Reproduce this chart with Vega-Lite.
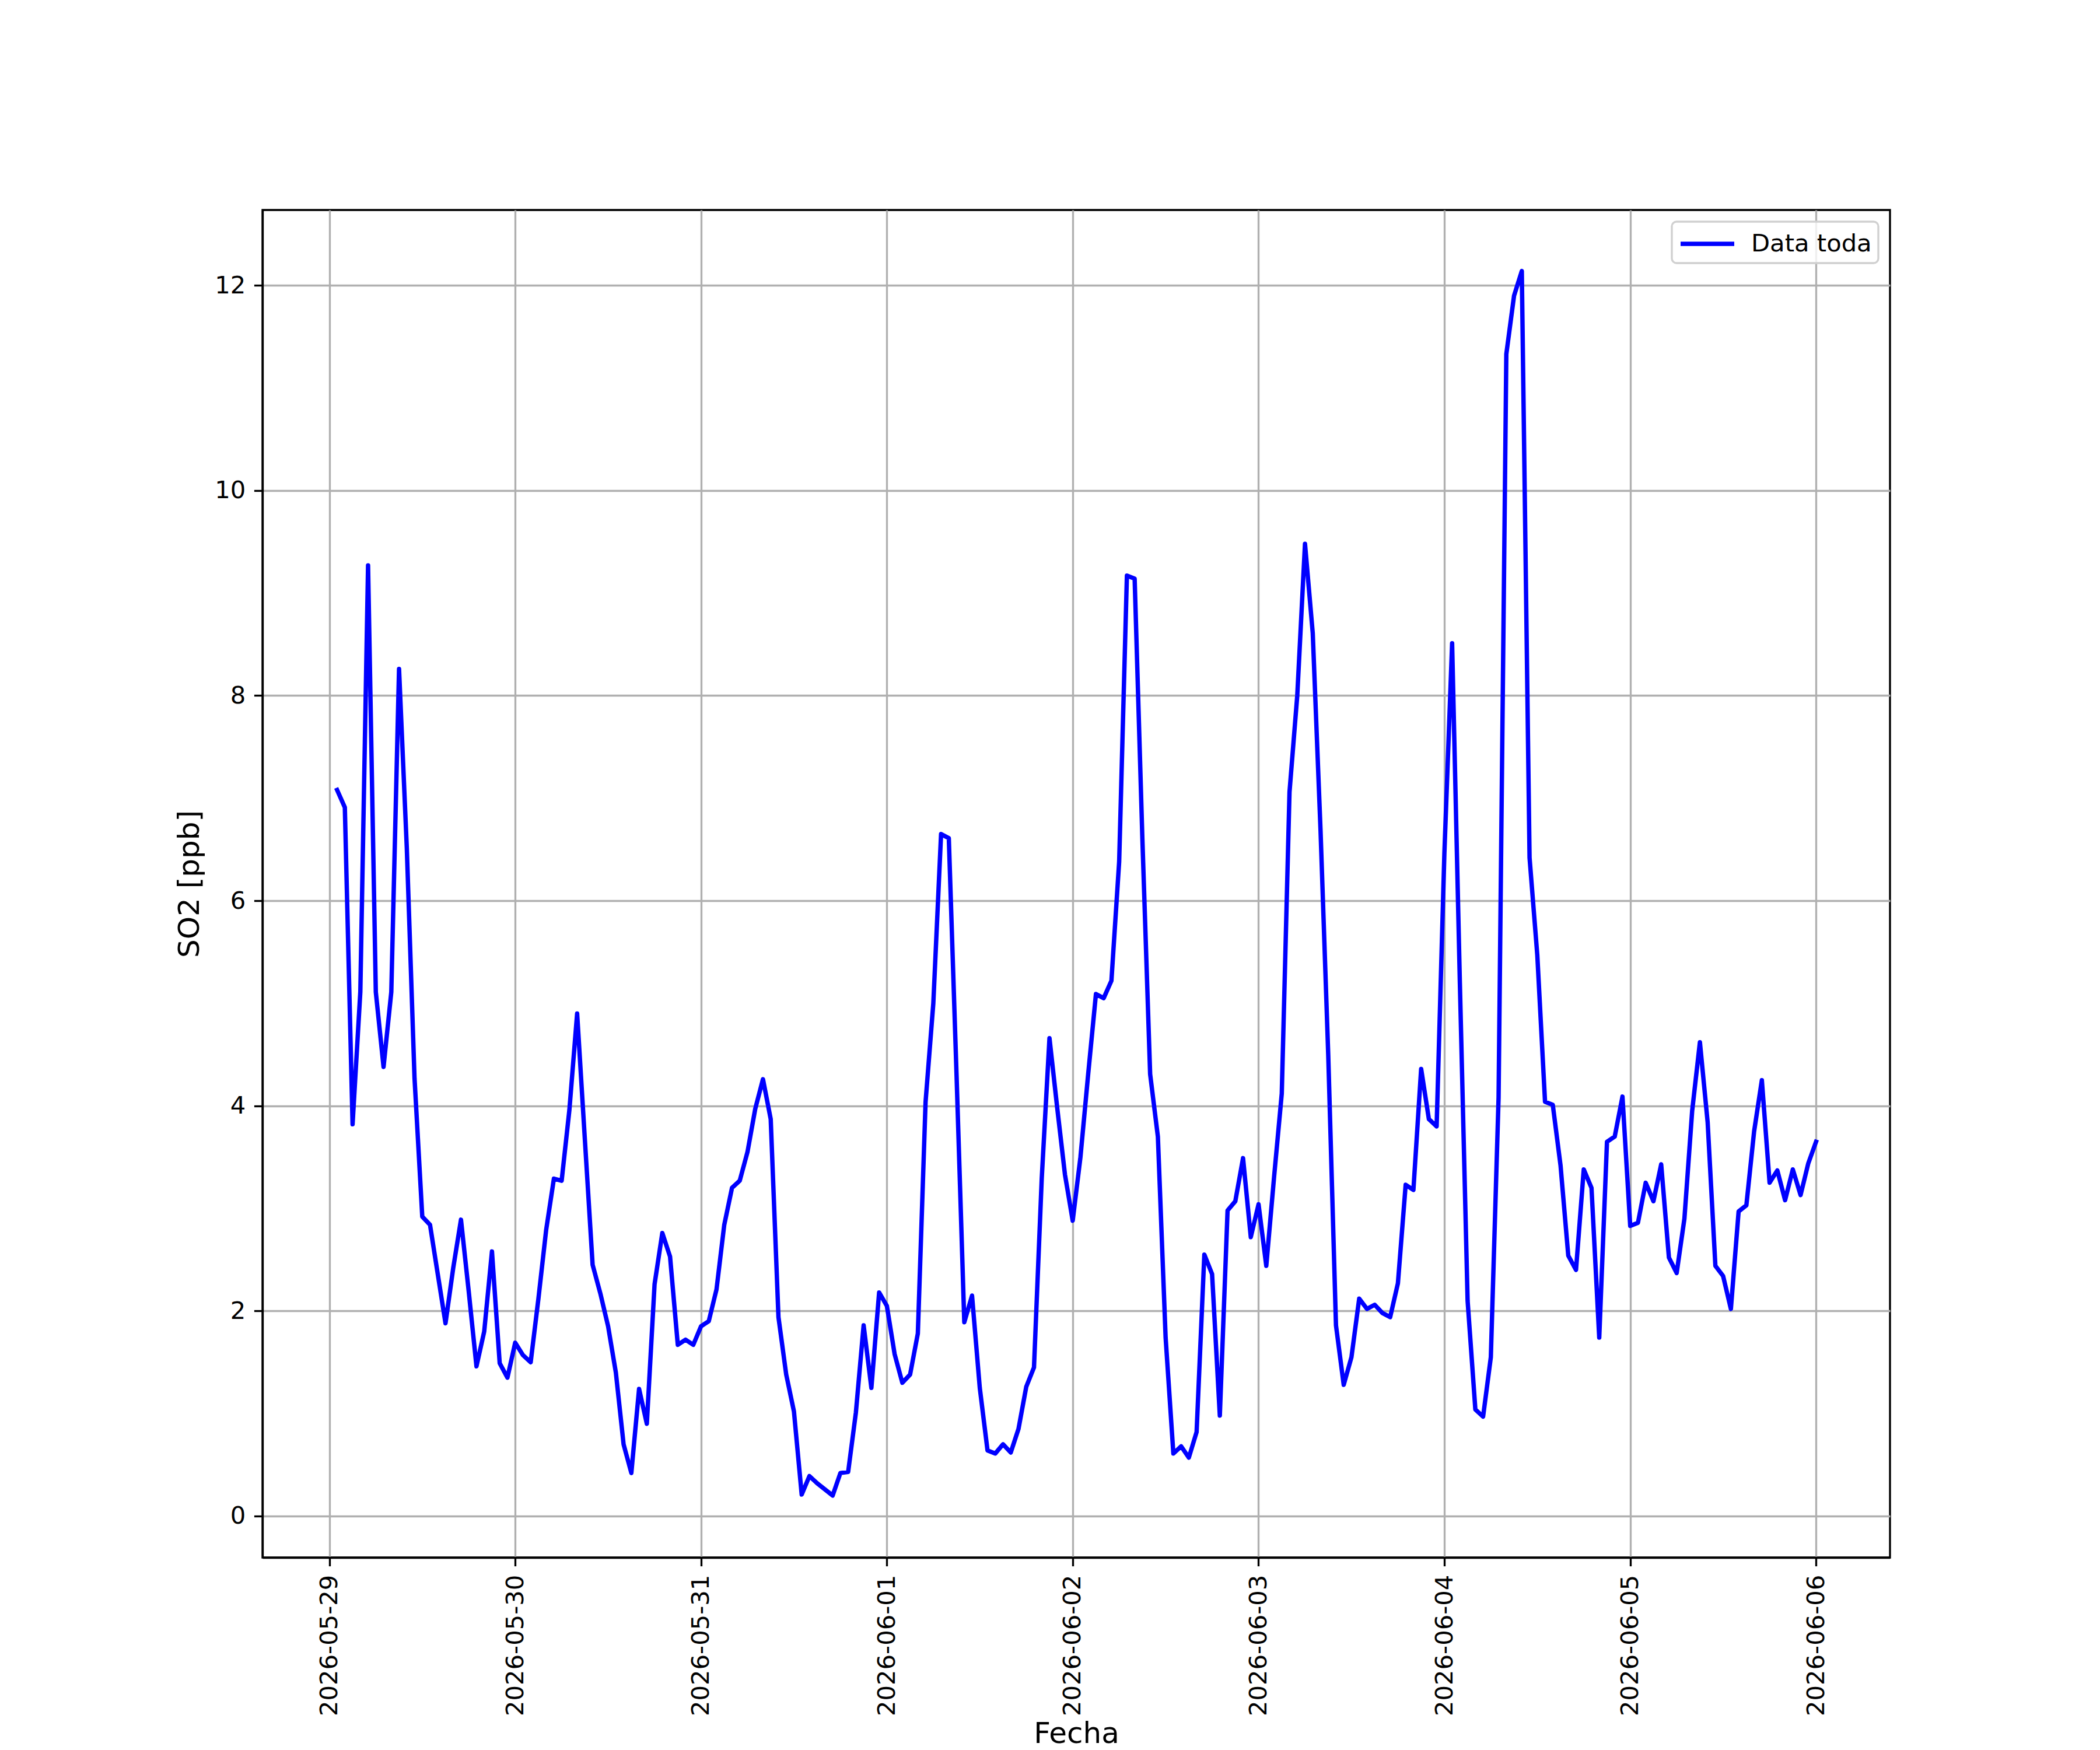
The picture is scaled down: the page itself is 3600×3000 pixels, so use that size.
{
  "$schema": "https://vega.github.io/schema/vega-lite/v6.json",
  "autosize": {"type": "none"},
  "padding": {"left": 450, "top": 360, "right": 360, "bottom": 330},
  "width": 2790,
  "height": 2310,
  "background": "#ffffff",
  "data": {"values": [
    {"fecha": "2026-05-29T01:00", "so2": 7.08}, {"fecha": "2026-05-29T02:00", "so2": 6.91}, {"fecha": "2026-05-29T03:00", "so2": 3.82}, {"fecha": "2026-05-29T04:00", "so2": 5.11},
    {"fecha": "2026-05-29T05:00", "so2": 9.27}, {"fecha": "2026-05-29T06:00", "so2": 5.11}, {"fecha": "2026-05-29T07:00", "so2": 4.38}, {"fecha": "2026-05-29T08:00", "so2": 5.11},
    {"fecha": "2026-05-29T09:00", "so2": 8.26}, {"fecha": "2026-05-29T10:00", "so2": 6.52}, {"fecha": "2026-05-29T11:00", "so2": 4.27}, {"fecha": "2026-05-29T12:00", "so2": 2.92},
    {"fecha": "2026-05-29T13:00", "so2": 2.84}, {"fecha": "2026-05-29T14:00", "so2": 2.36}, {"fecha": "2026-05-29T15:00", "so2": 1.88}, {"fecha": "2026-05-29T16:00", "so2": 2.42},
    {"fecha": "2026-05-29T17:00", "so2": 2.89}, {"fecha": "2026-05-29T18:00", "so2": 2.19}, {"fecha": "2026-05-29T19:00", "so2": 1.46}, {"fecha": "2026-05-29T20:00", "so2": 1.80},
    {"fecha": "2026-05-29T21:00", "so2": 2.58}, {"fecha": "2026-05-29T22:00", "so2": 1.49}, {"fecha": "2026-05-29T23:00", "so2": 1.35}, {"fecha": "2026-05-30T00:00", "so2": 1.69},
    {"fecha": "2026-05-30T01:00", "so2": 1.57}, {"fecha": "2026-05-30T02:00", "so2": 1.50}, {"fecha": "2026-05-30T03:00", "so2": 2.12}, {"fecha": "2026-05-30T04:00", "so2": 2.79},
    {"fecha": "2026-05-30T05:00", "so2": 3.29}, {"fecha": "2026-05-30T06:00", "so2": 3.27}, {"fecha": "2026-05-30T07:00", "so2": 3.96}, {"fecha": "2026-05-30T08:00", "so2": 4.90},
    {"fecha": "2026-05-30T09:00", "so2": 3.67}, {"fecha": "2026-05-30T10:00", "so2": 2.45}, {"fecha": "2026-05-30T11:00", "so2": 2.17}, {"fecha": "2026-05-30T12:00", "so2": 1.85},
    {"fecha": "2026-05-30T13:00", "so2": 1.40}, {"fecha": "2026-05-30T14:00", "so2": 0.70}, {"fecha": "2026-05-30T15:00", "so2": 0.42}, {"fecha": "2026-05-30T16:00", "so2": 1.24},
    {"fecha": "2026-05-30T17:00", "so2": 0.90}, {"fecha": "2026-05-30T18:00", "so2": 2.26}, {"fecha": "2026-05-30T19:00", "so2": 2.76}, {"fecha": "2026-05-30T20:00", "so2": 2.53},
    {"fecha": "2026-05-30T21:00", "so2": 1.67}, {"fecha": "2026-05-30T22:00", "so2": 1.72}, {"fecha": "2026-05-30T23:00", "so2": 1.67}, {"fecha": "2026-05-31T00:00", "so2": 1.85},
    {"fecha": "2026-05-31T01:00", "so2": 1.90}, {"fecha": "2026-05-31T02:00", "so2": 2.21}, {"fecha": "2026-05-31T03:00", "so2": 2.84}, {"fecha": "2026-05-31T04:00", "so2": 3.20},
    {"fecha": "2026-05-31T05:00", "so2": 3.27}, {"fecha": "2026-05-31T06:00", "so2": 3.55}, {"fecha": "2026-05-31T07:00", "so2": 3.97}, {"fecha": "2026-05-31T08:00", "so2": 4.26},
    {"fecha": "2026-05-31T09:00", "so2": 3.87}, {"fecha": "2026-05-31T10:00", "so2": 1.94}, {"fecha": "2026-05-31T11:00", "so2": 1.38}, {"fecha": "2026-05-31T12:00", "so2": 1.02},
    {"fecha": "2026-05-31T13:00", "so2": 0.21}, {"fecha": "2026-05-31T14:00", "so2": 0.39}, {"fecha": "2026-05-31T15:00", "so2": 0.32}, {"fecha": "2026-05-31T16:00", "so2": 0.26},
    {"fecha": "2026-05-31T17:00", "so2": 0.20}, {"fecha": "2026-05-31T18:00", "so2": 0.42}, {"fecha": "2026-05-31T19:00", "so2": 0.43}, {"fecha": "2026-05-31T20:00", "so2": 1.01},
    {"fecha": "2026-05-31T21:00", "so2": 1.86}, {"fecha": "2026-05-31T22:00", "so2": 1.25}, {"fecha": "2026-05-31T23:00", "so2": 2.18}, {"fecha": "2026-06-01T00:00", "so2": 2.05},
    {"fecha": "2026-06-01T01:00", "so2": 1.58}, {"fecha": "2026-06-01T02:00", "so2": 1.30}, {"fecha": "2026-06-01T03:00", "so2": 1.38}, {"fecha": "2026-06-01T04:00", "so2": 1.78},
    {"fecha": "2026-06-01T05:00", "so2": 4.04}, {"fecha": "2026-06-01T06:00", "so2": 5.00}, {"fecha": "2026-06-01T07:00", "so2": 6.65}, {"fecha": "2026-06-01T08:00", "so2": 6.61},
    {"fecha": "2026-06-01T09:00", "so2": 4.30}, {"fecha": "2026-06-01T10:00", "so2": 1.89}, {"fecha": "2026-06-01T11:00", "so2": 2.15}, {"fecha": "2026-06-01T12:00", "so2": 1.25},
    {"fecha": "2026-06-01T13:00", "so2": 0.64}, {"fecha": "2026-06-01T14:00", "so2": 0.61}, {"fecha": "2026-06-01T15:00", "so2": 0.70}, {"fecha": "2026-06-01T16:00", "so2": 0.62},
    {"fecha": "2026-06-01T17:00", "so2": 0.85}, {"fecha": "2026-06-01T18:00", "so2": 1.26}, {"fecha": "2026-06-01T19:00", "so2": 1.45}, {"fecha": "2026-06-01T20:00", "so2": 3.29},
    {"fecha": "2026-06-01T21:00", "so2": 4.66}, {"fecha": "2026-06-01T22:00", "so2": 3.98}, {"fecha": "2026-06-01T23:00", "so2": 3.33}, {"fecha": "2026-06-02T00:00", "so2": 2.88},
    {"fecha": "2026-06-02T01:00", "so2": 3.50}, {"fecha": "2026-06-02T02:00", "so2": 4.31}, {"fecha": "2026-06-02T03:00", "so2": 5.09}, {"fecha": "2026-06-02T04:00", "so2": 5.05},
    {"fecha": "2026-06-02T05:00", "so2": 5.22}, {"fecha": "2026-06-02T06:00", "so2": 6.38}, {"fecha": "2026-06-02T07:00", "so2": 9.17}, {"fecha": "2026-06-02T08:00", "so2": 9.14},
    {"fecha": "2026-06-02T09:00", "so2": 6.60}, {"fecha": "2026-06-02T10:00", "so2": 4.31}, {"fecha": "2026-06-02T11:00", "so2": 3.70}, {"fecha": "2026-06-02T12:00", "so2": 1.74},
    {"fecha": "2026-06-02T13:00", "so2": 0.61}, {"fecha": "2026-06-02T14:00", "so2": 0.68}, {"fecha": "2026-06-02T15:00", "so2": 0.57}, {"fecha": "2026-06-02T16:00", "so2": 0.82},
    {"fecha": "2026-06-02T17:00", "so2": 2.55}, {"fecha": "2026-06-02T18:00", "so2": 2.36}, {"fecha": "2026-06-02T19:00", "so2": 0.98}, {"fecha": "2026-06-02T20:00", "so2": 2.98},
    {"fecha": "2026-06-02T21:00", "so2": 3.07}, {"fecha": "2026-06-02T22:00", "so2": 3.49}, {"fecha": "2026-06-02T23:00", "so2": 2.72}, {"fecha": "2026-06-03T00:00", "so2": 3.04},
    {"fecha": "2026-06-03T01:00", "so2": 2.44}, {"fecha": "2026-06-03T02:00", "so2": 3.30}, {"fecha": "2026-06-03T03:00", "so2": 4.12}, {"fecha": "2026-06-03T04:00", "so2": 7.06},
    {"fecha": "2026-06-03T05:00", "so2": 8.00}, {"fecha": "2026-06-03T06:00", "so2": 9.48}, {"fecha": "2026-06-03T07:00", "so2": 8.61}, {"fecha": "2026-06-03T08:00", "so2": 6.70},
    {"fecha": "2026-06-03T09:00", "so2": 4.50}, {"fecha": "2026-06-03T10:00", "so2": 1.86}, {"fecha": "2026-06-03T11:00", "so2": 1.28}, {"fecha": "2026-06-03T12:00", "so2": 1.55},
    {"fecha": "2026-06-03T13:00", "so2": 2.12}, {"fecha": "2026-06-03T14:00", "so2": 2.02}, {"fecha": "2026-06-03T15:00", "so2": 2.06}, {"fecha": "2026-06-03T16:00", "so2": 1.98},
    {"fecha": "2026-06-03T17:00", "so2": 1.94}, {"fecha": "2026-06-03T18:00", "so2": 2.27}, {"fecha": "2026-06-03T19:00", "so2": 3.23}, {"fecha": "2026-06-03T20:00", "so2": 3.18},
    {"fecha": "2026-06-03T21:00", "so2": 4.36}, {"fecha": "2026-06-03T22:00", "so2": 3.87}, {"fecha": "2026-06-03T23:00", "so2": 3.80}, {"fecha": "2026-06-04T00:00", "so2": 6.46},
    {"fecha": "2026-06-04T01:00", "so2": 8.51}, {"fecha": "2026-06-04T02:00", "so2": 5.20}, {"fecha": "2026-06-04T03:00", "so2": 2.10}, {"fecha": "2026-06-04T04:00", "so2": 1.04},
    {"fecha": "2026-06-04T05:00", "so2": 0.97}, {"fecha": "2026-06-04T06:00", "so2": 1.55}, {"fecha": "2026-06-04T07:00", "so2": 4.08}, {"fecha": "2026-06-04T08:00", "so2": 11.33},
    {"fecha": "2026-06-04T09:00", "so2": 11.90}, {"fecha": "2026-06-04T10:00", "so2": 12.14}, {"fecha": "2026-06-04T11:00", "so2": 6.42}, {"fecha": "2026-06-04T12:00", "so2": 5.47},
    {"fecha": "2026-06-04T13:00", "so2": 4.04}, {"fecha": "2026-06-04T14:00", "so2": 4.01}, {"fecha": "2026-06-04T15:00", "so2": 3.42}, {"fecha": "2026-06-04T16:00", "so2": 2.54},
    {"fecha": "2026-06-04T17:00", "so2": 2.40}, {"fecha": "2026-06-04T18:00", "so2": 3.38}, {"fecha": "2026-06-04T19:00", "so2": 3.20}, {"fecha": "2026-06-04T20:00", "so2": 1.74},
    {"fecha": "2026-06-04T21:00", "so2": 3.65}, {"fecha": "2026-06-04T22:00", "so2": 3.70}, {"fecha": "2026-06-04T23:00", "so2": 4.09}, {"fecha": "2026-06-05T00:00", "so2": 2.83},
    {"fecha": "2026-06-05T01:00", "so2": 2.86}, {"fecha": "2026-06-05T02:00", "so2": 3.25}, {"fecha": "2026-06-05T03:00", "so2": 3.07}, {"fecha": "2026-06-05T04:00", "so2": 3.43},
    {"fecha": "2026-06-05T05:00", "so2": 2.52}, {"fecha": "2026-06-05T06:00", "so2": 2.37}, {"fecha": "2026-06-05T07:00", "so2": 2.90}, {"fecha": "2026-06-05T08:00", "so2": 3.95},
    {"fecha": "2026-06-05T09:00", "so2": 4.62}, {"fecha": "2026-06-05T10:00", "so2": 3.84}, {"fecha": "2026-06-05T11:00", "so2": 2.44}, {"fecha": "2026-06-05T12:00", "so2": 2.34},
    {"fecha": "2026-06-05T13:00", "so2": 2.02}, {"fecha": "2026-06-05T14:00", "so2": 2.97}, {"fecha": "2026-06-05T15:00", "so2": 3.03}, {"fecha": "2026-06-05T16:00", "so2": 3.75},
    {"fecha": "2026-06-05T17:00", "so2": 4.25}, {"fecha": "2026-06-05T18:00", "so2": 3.25}, {"fecha": "2026-06-05T19:00", "so2": 3.37}, {"fecha": "2026-06-05T20:00", "so2": 3.08},
    {"fecha": "2026-06-05T21:00", "so2": 3.38}, {"fecha": "2026-06-05T22:00", "so2": 3.13}, {"fecha": "2026-06-05T23:00", "so2": 3.44}, {"fecha": "2026-06-06T00:00", "so2": 3.65}
  ]},
  "mark": {"type": "line", "strokeWidth": 7.5, "strokeJoin": "round", "strokeCap": "square", "clip": true},
  "encoding": {
    "x": {
      "field": "fecha", "type": "temporal", "title": "Fecha",
      "scale": {"domain": [
        {"year": 2026, "month": 5, "date": 28, "hours": 15, "minutes": 22},
        {"year": 2026, "month": 6, "date": 6, "hours": 9, "minutes": 33}
      ], "nice": false},
      "axis": {"format": "%Y-%m-%d", "tickCount": {"interval": "day", "step": 1}, "labelAngle": -90, "labelAlign": "right", "labelBaseline": "middle", "titleY": 277, "titleBaseline": "top", "labelFlush": false, "labelOverlap": false, "labelLimit": 0}
    },
    "y": {
      "field": "so2", "type": "quantitative", "title": "SO2 [ppb]",
      "scale": {"domain": [-0.404, 12.735], "nice": false, "zero": false},
      "axis": {"values": [0, 2, 4, 6, 8, 10, 12], "format": "d", "titlePadding": 17, "labelFlush": false, "labelLimit": 0}
    },
    "color": {
      "datum": "Data toda", "type": "nominal",
      "scale": {"range": ["#0000ff"]},
      "legend": {
        "orient": "top-right", "offset": 20, "title": null,
        "symbolType": "M-1,0H3", "symbolSize": 2116, "symbolStrokeWidth": 7.5, "symbolStrokeColor": "#0000ff", "symbolFillColor": "transparent",
        "labelFont": "DejaVu Sans", "labelFontSize": 41.7, "labelColor": "#000000", "labelOffset": 71, "labelLimit": 0,
        "padding": 11, "fillColor": "rgba(255,255,255,0.8)", "strokeColor": "#d0d0d0", "cornerRadius": 8,
        "encode": {"legend": {"update": {"strokeWidth": {"value": 3.33}}}}
      }
    }
  },
  "config": {
    "view": {"stroke": "#000000", "strokeWidth": 3.33},
    "axis": {
      "domainColor": "#000000", "domainWidth": 3.33,
      "tickColor": "#000000", "tickWidth": 3.33, "tickSize": 14.6,
      "labelPadding": 14.6, "labelFont": "DejaVu Sans", "labelFontSize": 41.7, "labelColor": "#000000",
      "titleFont": "DejaVu Sans", "titleFontSize": 50, "titleFontWeight": "normal", "titleColor": "#000000",
      "grid": true, "gridColor": "#b0b0b0", "gridWidth": 3.33, "gridOpacity": 1
    }
  }
}
